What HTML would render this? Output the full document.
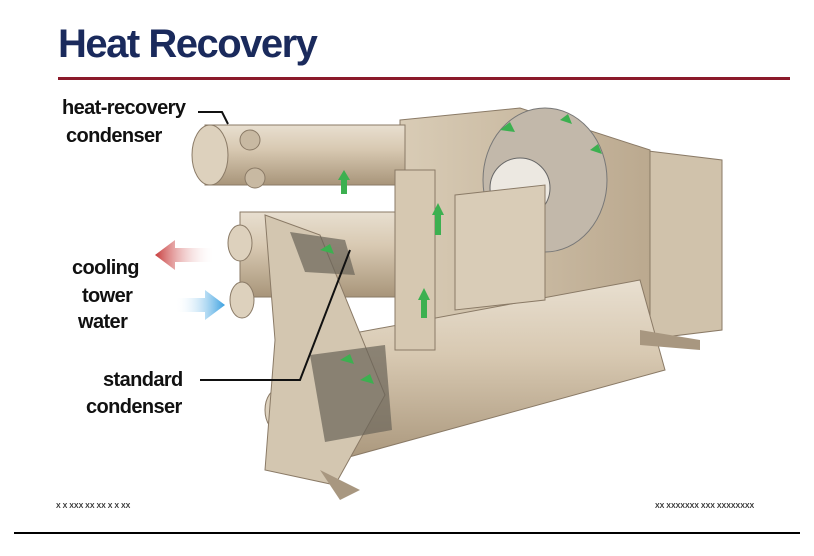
<!DOCTYPE html>
<html><head><meta charset="utf-8"><style>
html,body{margin:0;padding:0;background:#fff}
body{width:814px;height:556px;position:relative;overflow:hidden;font-family:"Liberation Sans",sans-serif}
.t{position:absolute;color:#111;font-weight:bold;font-size:20px;line-height:24px;letter-spacing:-0.6px}
</style></head><body>
<div style="position:absolute;left:58px;top:22px;font-size:40px;font-weight:bold;color:#1a2a5c;letter-spacing:-1.5px">Heat Recovery</div>
<div style="position:absolute;left:58px;top:77px;width:732px;height:3px;background:#8b1a2a"></div>
<div style="position:absolute;left:14px;top:532px;width:786px;height:2px;background:#000"></div>
<div style="position:absolute;left:56px;top:503px;font-size:7px;color:#333;font-weight:bold">X X XXX XX XX X X XX</div>
<div style="position:absolute;left:655px;top:503px;font-size:7px;color:#333;font-weight:bold">XX XXXXXXX XXX XXXXXXXX</div>
<svg width="814" height="556" style="position:absolute;left:0;top:0">
<defs>
<linearGradient id="cyl" x1="0" y1="0" x2="0" y2="1"><stop offset="0" stop-color="#e8dfd0"/><stop offset="0.4" stop-color="#d8c9b2"/><stop offset="1" stop-color="#a8957a"/></linearGradient>
<linearGradient id="body" x1="0" y1="0" x2="1" y2="0"><stop offset="0" stop-color="#d9ccb6"/><stop offset="1" stop-color="#bba98f"/></linearGradient>
<linearGradient id="red" x1="1" y1="0" x2="0" y2="0"><stop offset="0" stop-color="#fff" stop-opacity="0"/><stop offset="1" stop-color="#c83c3c"/></linearGradient>
<linearGradient id="blue" x1="0" y1="0" x2="1" y2="0"><stop offset="0" stop-color="#fff" stop-opacity="0"/><stop offset="1" stop-color="#3aa0e0"/></linearGradient>
</defs>
<path d="M640 150 L722 160 L722 330 L640 340 Z" fill="#d0c2ab" stroke="#8a7a66"/>
<path d="M400 120 L520 108 L650 150 L650 345 L560 365 L400 420 Z" fill="url(#body)" stroke="#8a7a66"/>
<rect x="205" y="125" width="200" height="60" fill="url(#cyl)" stroke="#8a7a66"/>
<ellipse cx="210" cy="155" rx="18" ry="30" fill="#ddd1bd" stroke="#8a7a66"/>
<circle cx="250" cy="140" r="10" fill="#c8b9a2" stroke="#8a7a66"/>
<circle cx="255" cy="178" r="10" fill="#c8b9a2" stroke="#8a7a66"/>
<rect x="240" y="212" width="180" height="85" fill="url(#cyl)" stroke="#8a7a66"/>
<ellipse cx="240" cy="243" rx="12" ry="18" fill="#ddd1bd" stroke="#8a7a66"/>
<ellipse cx="242" cy="300" rx="12" ry="18" fill="#ddd1bd" stroke="#8a7a66"/>
<path d="M290 345 L640 280 L665 370 L320 465 Z" fill="url(#cyl)" stroke="#8a7a66"/>
<ellipse cx="280" cy="410" rx="15" ry="22" fill="#ddd1bd" stroke="#8a7a66"/>
<ellipse cx="305" cy="455" rx="15" ry="20" fill="#ddd1bd" stroke="#8a7a66"/>
<path d="M265 215 L320 235 L385 395 L335 485 L265 470 L275 340 Z" fill="#d3c6b0" stroke="#8a7a66"/>
<path d="M290 232 L345 240 L355 275 L305 272 Z" fill="#6a6458" opacity="0.7"/>
<path d="M310 355 L385 345 L392 430 L325 442 Z" fill="#6a6458" opacity="0.7"/>
<ellipse cx="545" cy="180" rx="62" ry="72" fill="#c2b8aa" stroke="#777"/>
<circle cx="520" cy="188" r="30" fill="#ece8e1" stroke="#666"/>
<path d="M455 195 L545 185 L545 300 L455 310 Z" fill="#d9ccb7" stroke="#8a7a66"/>
<rect x="395" y="170" width="40" height="180" fill="#d6c8b1" stroke="#8a7a66"/>
<path d="M640 330 L700 340 L700 350 L640 345 Z" fill="#a89780"/>
<path d="M320 470 L340 500 L360 490 Z" fill="#a89780"/>
<g fill="#3cb050">
<path d="M432 215 l6 -12 l6 12 h-3 v20 h-6 v-20 z"/>
<path d="M418 300 l6 -12 l6 12 h-3 v18 h-6 v-18 z"/>
<path d="M338 180 l6 -10 l6 10 h-3 v14 h-6 v-14 z"/>
<path d="M500 130 l10 -8 l5 10 z"/><path d="M560 120 l8 -6 l4 10 z"/><path d="M590 150 l8 -6 l4 10 z"/>
<path d="M340 360 l10 -6 l4 10 z"/><path d="M360 380 l10 -6 l4 10 z"/><path d="M320 250 l10 -6 l4 10 z"/>
</g>
<path d="M215 248 L175 248 L175 240 L155 255 L175 270 L175 262 L215 262 Z" fill="url(#red)"/>
<path d="M175 298 L205 298 L205 290 L225 305 L205 320 L205 312 L175 312 Z" fill="url(#blue)"/>
<path d="M198 112 L222 112 L228 124" stroke="#111" stroke-width="2" fill="none"/>
<path d="M200 380 L300 380 L350 250" stroke="#111" stroke-width="2" fill="none"/>
</svg>
<div class="t" style="left:62px;top:96px">heat-recovery</div>
<div class="t" style="left:66px;top:124px">condenser</div>
<div class="t" style="left:72px;top:256px">cooling</div>
<div class="t" style="left:82px;top:284px">tower</div>
<div class="t" style="left:78px;top:310px">water</div>
<div class="t" style="left:103px;top:368px">standard</div>
<div class="t" style="left:86px;top:395px">condenser</div>
</body></html>
